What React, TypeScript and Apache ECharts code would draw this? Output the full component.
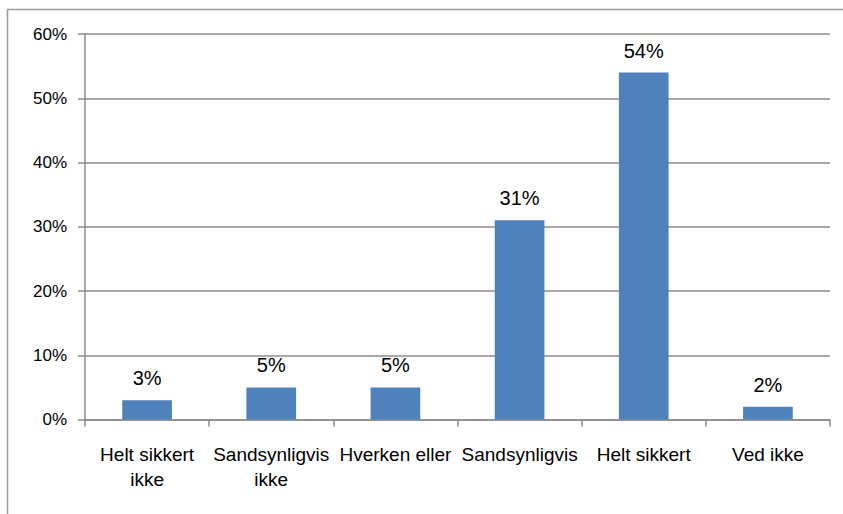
import React, { useEffect, useRef } from "react";
import * as echarts from "echarts";

const categories = ["Helt sikkert\nikke", "Sandsynligvis\nikke", "Hverken eller", "Sandsynligvis", "Helt sikkert", "Ved ikke"];
const values = [3, 5, 5, 31, 54, 2];
const yTicks = { min: 0, max: 60, interval: 10 };

const FONT = "Liberation Sans";
const GRAY = "#8c8c8c";

export default function App() {
  const ref = useRef<HTMLDivElement>(null);
  useEffect(() => {
    const chart = echarts.init(ref.current!, null, { renderer: "svg" });
    chart.setOption({
      animation: false,
      backgroundColor: "#ffffff",
      textStyle: { fontFamily: FONT },
      graphic: [
        {
          type: "rect",
          shape: { x: 7.5, y: 9.5, width: 900, height: 600 },
          style: { fill: "none", stroke: "#9a9a9a", lineWidth: 1.5 },
          silent: true,
        },
      ],
      grid: { left: 85, right: 13, top: 34, bottom: 94.5, containLabel: false },
      xAxis: {
        type: "category",
        data: categories,
        axisLine: { show: true, lineStyle: { color: GRAY, width: 1.5 } },
        axisTick: { show: true, length: 7, lineStyle: { color: GRAY, width: 1.5 } },
        axisLabel: {
          interval: 0,
          color: "#000",
          fontFamily: FONT,
          fontSize: 19,
          lineHeight: 25,
          margin: 22,
        },
      },
      yAxis: {
        type: "value",
        min: yTicks.min,
        max: yTicks.max,
        interval: yTicks.interval,
        axisLine: { show: true, lineStyle: { color: GRAY, width: 1.5 } },
        axisTick: { show: true, length: 7, lineStyle: { color: GRAY, width: 1.5 } },
        splitLine: { show: true, lineStyle: { color: GRAY, width: 1.5 } },
        axisLabel: {
          color: "#000",
          fontFamily: FONT,
          fontSize: 17,
          margin: 18,
          formatter: "{value}%",
        },
      },
      series: [
        {
          type: "bar",
          data: values,
          barWidth: "40%",
          itemStyle: { color: "#4F81BD" },
          label: {
            show: true,
            position: "top",
            distance: 12,
            color: "#000",
            fontFamily: FONT,
            fontSize: 20,
            formatter: "{c}%",
          },
        },
      ],
    });
    return () => chart.dispose();
  }, []);
  return (
    <div
      ref={ref}
      style={{ position: "fixed", left: 0, top: 0, width: 843, height: 514, background: "#fff" }}
    />
  );
}
